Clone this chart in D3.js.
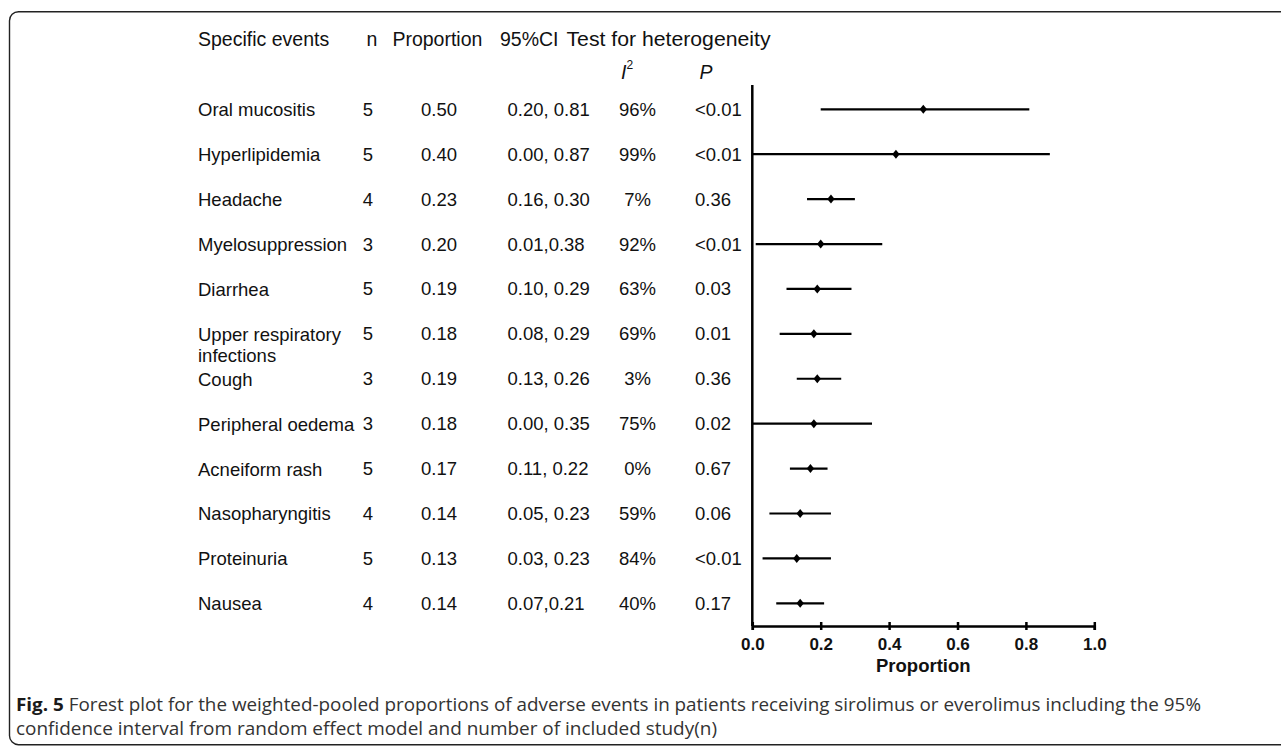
<!DOCTYPE html>
<html>
<head>
<meta charset="utf-8">
<script src="https://cdn.jsdelivr.net/npm/d3@7"></script>
<style>
  body { margin: 0; background: #fff; }
  .tbl text { font-family: "Liberation Sans", Arial, sans-serif; font-size: 18.5px; fill: #111; }
  .tbl text.head { font-size: 19.5px; }
  .axis text { font-family: "Liberation Sans", Arial, sans-serif; font-size: 17px; font-weight: bold; fill: #111; }
  .caption { font-family: "Open Sans", "Noto Sans", sans-serif; font-size: 18px; fill: #333; }
</style>
</head>
<body>
<div class="entries"></div>
<script>
var events = ["Oral mucositis", "Hyperlipidemia", "Headache", "Myelosuppression", "Diarrhea",
  "Upper respiratory|infections", "Cough", "Peripheral oedema", "Acneiform rash",
  "Nasopharyngitis", "Proteinuria", "Nausea"];
var nStudies = ["5", "5", "4", "3", "5", "5", "3", "3", "5", "4", "5", "4"];
var propText = ["0.50", "0.40", "0.23", "0.20", "0.19", "0.18", "0.19", "0.18", "0.17", "0.14", "0.13", "0.14"];
var ciText = ["0.20, 0.81", "0.00, 0.87", "0.16, 0.30", "0.01,0.38", "0.10, 0.29", "0.08, 0.29",
  "0.13, 0.26", "0.00, 0.35", "0.11, 0.22", "0.05, 0.23", "0.03, 0.23", "0.07,0.21"];
var i2Text = ["96%", "99%", "7%", "92%", "63%", "69%", "3%", "75%", "0%", "59%", "84%", "40%"];
var pText = ["<0.01", "<0.01", "0.36", "<0.01", "0.03", "0.01", "0.36", "0.02", "0.67", "0.06", "<0.01", "0.17"];
// plotted values (point estimate + 95% CI)
var estimate = [0.50, 0.42, 0.23, 0.20, 0.19, 0.18, 0.19, 0.18, 0.17, 0.14, 0.13, 0.14];
var lower = [0.20, 0.00, 0.16, 0.01, 0.10, 0.08, 0.13, 0.00, 0.11, 0.05, 0.03, 0.07];
var upper = [0.81, 0.87, 0.30, 0.38, 0.29, 0.29, 0.26, 0.35, 0.22, 0.23, 0.23, 0.21];
var xTicks = [0, 0.2, 0.4, 0.6, 0.8, 1.0];

var w = 1281, h = 746;
var vis = d3.select(".entries").append("svg")
  .attr("width", w)
  .attr("height", h);

// frame round the figure
vis.append("rect")
  .attr("x", 9.5).attr("y", 11.7)
  .attr("width", 1300).attr("height", 733)
  .attr("rx", 9)
  .attr("fill", "none")
  .attr("stroke", "#222")
  .attr("stroke-width", 1.4);

var x = d3.scaleLinear().domain([0, 1]).range([752.3, 1094.3]);
var y = d3.scalePoint().domain(d3.range(events.length)).range([109.3, 603.3]);

var tbl = vis.append("g").attr("class", "tbl");

// header
var head = [["Specific events", 198, null], ["n", 366.4, null], ["Proportion", 392.4, null],
  ["95%CI", 500, null], ["Test for heterogeneity", 566.5, 204]];
tbl.selectAll("text.head").data(head).enter().append("text")
  .attr("class", "head")
  .attr("x", function(d) { return d[1]; })
  .attr("y", 38.5)
  .attr("dominant-baseline", "central")
  .attr("textLength", function(d) { return d[2]; })
  .attr("lengthAdjust", "spacingAndGlyphs")
  .text(function(d) { return d[0]; });

var i2 = tbl.append("text").attr("class", "head").attr("x", 621).attr("y", 72)
  .attr("dominant-baseline", "central");
i2.append("tspan").attr("font-style", "italic").text("I");
i2.append("tspan").attr("font-size", "12px").attr("dy", -7).text("2");
tbl.append("text").attr("class", "head").attr("x", 706).attr("y", 72)
  .attr("dominant-baseline", "central").attr("text-anchor", "middle")
  .attr("font-style", "italic").text("P");

// rows
var cols = [
  { vals: nStudies, x: 368, anchor: "middle" },
  { vals: propText, x: 421, anchor: "start" },
  { vals: ciText, x: 507.5, anchor: "start" },
  { vals: i2Text, x: 637.5, anchor: "middle" },
  { vals: pText, x: 695, anchor: "start" }
];

var names = tbl.selectAll("text.name").data(events).enter().append("text")
  .attr("class", "name")
  .attr("x", 198)
  .attr("y", function(d, i) { return y(i); })
  .attr("dominant-baseline", "central");
names.each(function(d) {
  var parts = d.split("|");
  var t = d3.select(this);
  parts.forEach(function(p, k) {
    t.append("tspan").attr("x", 198).attr("dy", k == 0 ? 0 : 21).text(p);
  });
});

cols.forEach(function(c) {
  tbl.append("g").selectAll("text").data(c.vals).enter().append("text")
    .attr("x", c.x)
    .attr("y", function(d, i) { return y(i); })
    .attr("dominant-baseline", "central")
    .attr("text-anchor", c.anchor)
    .text(function(d) { return d; });
});

// forest plot
var plot = vis.append("g");

plot.append("line")
  .attr("x1", x(0)).attr("x2", x(0))
  .attr("y1", 85).attr("y2", 626)
  .attr("stroke", "#000").attr("stroke-width", 2.5);

plot.selectAll("line.ci").data(estimate).enter().append("line")
  .attr("class", "ci")
  .attr("x1", function(d, i) { return x(lower[i]); })
  .attr("x2", function(d, i) { return x(upper[i]); })
  .attr("y1", function(d, i) { return y(i); })
  .attr("y2", function(d, i) { return y(i); })
  .attr("stroke", "#000").attr("stroke-width", 2.2);

plot.selectAll("path.pt").data(estimate).enter().append("path")
  .attr("class", "pt")
  .attr("d", function(d, i) {
    var cx = x(d), cy = y(i);
    return "M" + cx + "," + (cy - 4.5) + "L" + (cx + 3.7) + "," + cy + "L" + cx + "," + (cy + 4.5) + "L" + (cx - 3.7) + "," + cy + "Z";
  })
  .attr("fill", "#000");

var axis = vis.append("g")
  .attr("class", "axis")
  .attr("transform", "translate(0,626)")
  .call(d3.axisBottom(x).tickValues(xTicks).tickFormat(d3.format(".1f")).tickSizeOuter(0).tickSize(4).tickPadding(8));
axis.select(".domain").attr("stroke", "#000").attr("stroke-width", 2.5);
axis.selectAll(".tick line").attr("y1", -4).attr("y2", 4).attr("stroke", "#000").attr("stroke-width", 2.5);
axis.selectAll(".tick text").attr("fill", "#111");

vis.append("text")
  .attr("x", x(0.5)).attr("y", 665)
  .attr("dominant-baseline", "central")
  .attr("text-anchor", "middle")
  .attr("font-family", "Liberation Sans, Arial, sans-serif")
  .attr("font-size", "18.5px").attr("font-weight", "bold")
  .attr("fill", "#111")
  .text("Proportion");

// caption
var cap1 = vis.append("text").attr("class", "caption")
  .attr("x", 16).attr("y", 704)
  .attr("dominant-baseline", "central")
  .attr("textLength", 1185).attr("lengthAdjust", "spacingAndGlyphs");
cap1.append("tspan").attr("font-weight", "bold").attr("fill", "#1a1a1a").text("Fig. 5");
cap1.append("tspan").text(" Forest plot for the weighted-pooled proportions of adverse events in patients receiving sirolimus or everolimus including the 95%");
vis.append("text").attr("class", "caption")
  .attr("x", 16).attr("y", 728)
  .attr("dominant-baseline", "central")
  .attr("textLength", 701).attr("lengthAdjust", "spacingAndGlyphs")
  .text("confidence interval from random effect model and number of included study(n)");
</script>
</body>
</html>
